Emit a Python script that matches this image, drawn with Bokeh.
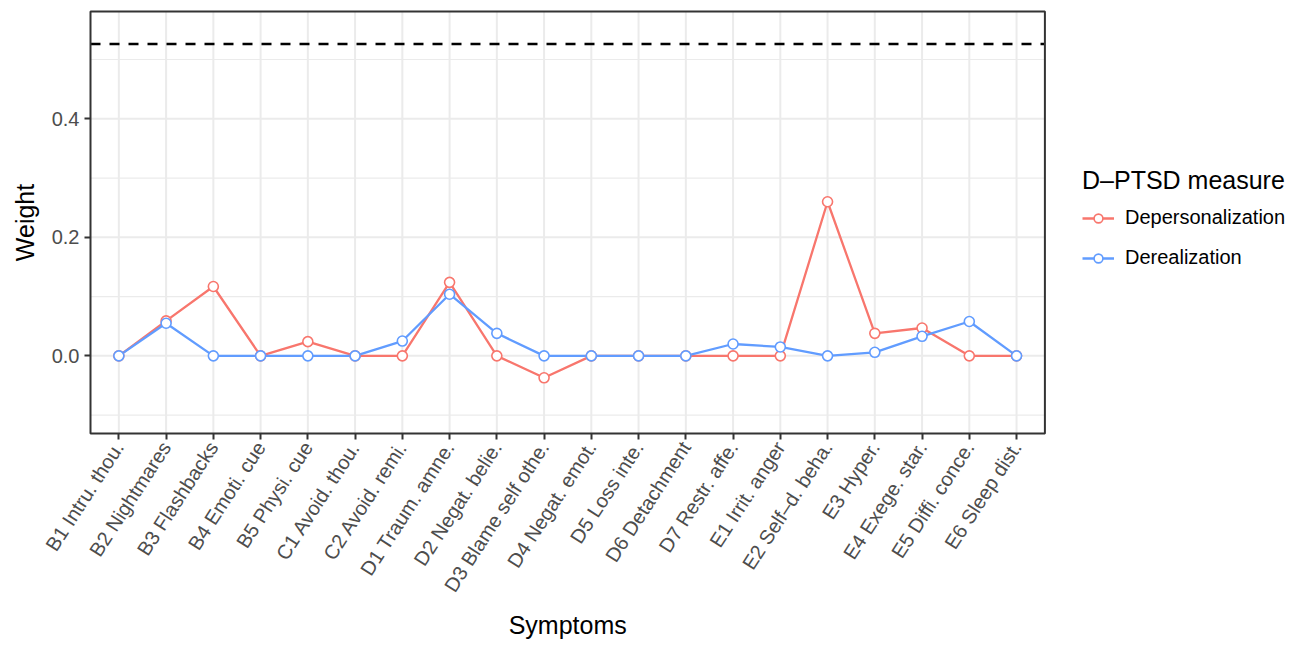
import math
from bokeh.plotting import figure
from bokeh.models import (Range1d, FixedTicker, PrintfTickFormatter, BoxAnnotation,
                          Legend, LegendItem, ColumnDataSource, Title)
from bokeh.embed import file_html
from bokeh.resources import INLINE

# ---- data ----
symptoms = ["B1 Intru. thou.", "B2 Nightmares", "B3 Flashbacks", "B4 Emoti. cue",
            "B5 Physi. cue", "C1 Avoid. thou.", "C2 Avoid. remi.", "D1 Traum. amne.",
            "D2 Negat. belie.", "D3 Blame self othe.", "D4 Negat. emot.", "D5 Loss inte.",
            "D6 Detachment", "D7 Restr. affe.", "E1 Irrit. anger", "E2 Self\u2013d. beha.",
            "E3 Hyper.", "E4 Exege. star.", "E5 Diffi. conce.", "E6 Sleep dist."]
depersonalization = [0.0, 0.059, 0.117, 0.0, 0.024, 0.0, 0.0, 0.124, 0.0, -0.037,
                     0.0, 0.0, 0.0, 0.0, 0.0, 0.260, 0.038, 0.047, 0.0, 0.0]
derealization = [0.0, 0.055, 0.0, 0.0, 0.0, 0.0, 0.025, 0.104, 0.038, 0.0,
                 0.0, 0.0, 0.0, 0.020, 0.015, 0.0, 0.006, 0.033, 0.058, 0.0]
cutoff = 0.526
y_major = [0.0, 0.2, 0.4]
y_minor = [-0.1, 0.1, 0.3, 0.5]
y_lo, y_hi = -0.131, 0.581
series_names = ["Depersonalization", "Derealization"]
series_colors = ["#F8766D", "#619CFF"]
x_title = "Symptoms"
y_title = "Weight"
legend_title = "D\u2013PTSD measure"

FONT = "Liberation Sans"
n = len(symptoms)
xpos = list(range(1, n + 1))
x_lo, x_hi = 0.4, n + 0.6

# ---- geometry (pixels) ----
W, H = 1298, 645
left_b, top_b, bottom_b = 88, 9, 210
pad = 2                                   # px between frame edge and panel box
panel_left, panel_right = 90, 1044.4
frame_w = W - left_b
xunit = (panel_right - panel_left) / (x_hi - x_lo)
yunit = (433 - 11) / (y_hi - y_lo)
xs = x_lo - pad / xunit
ys = y_lo - pad / yunit
ye = y_hi + pad / yunit

p = figure(width=W, height=H, output_backend="svg", toolbar_location=None,
           x_range=Range1d(xs, xs + frame_w / xunit), y_range=Range1d(ys, ye),
           min_border_left=left_b, min_border_right=0, min_border_top=top_b,
           min_border_bottom=bottom_b)

p.background_fill_color = "white"
p.border_fill_color = "white"
p.outline_line_color = None
p.xgrid.visible = False
p.ygrid.visible = False

# grid lines restricted to the panel
gy_major = ColumnDataSource(dict(y=y_major, x0=[x_lo] * len(y_major), x1=[x_hi] * len(y_major)))
gy_minor = ColumnDataSource(dict(y=y_minor, x0=[x_lo] * len(y_minor), x1=[x_hi] * len(y_minor)))
gx = ColumnDataSource(dict(x=xpos, y0=[y_lo] * n, y1=[y_hi] * n))
p.segment(x0="x0", x1="x1", y0="y", y1="y", source=gy_minor, line_color="#EBEBEB", line_width=1.2)
p.segment(x0="x0", x1="x1", y0="y", y1="y", source=gy_major, line_color="#EBEBEB", line_width=2)
p.segment(x0="x", x1="x", y0="y0", y1="y1", source=gx, line_color="#EBEBEB", line_width=2)

# cutoff line
cut_src = ColumnDataSource(dict(x=[x_lo, x_hi], y=[cutoff, cutoff]))
p.line("x", "y", source=cut_src, line_color="black", line_width=2.5, line_dash="10 9")

# series
sources = [ColumnDataSource(dict(x=xpos, y=vals)) for vals in (depersonalization, derealization)]
lines = []
for src, col in zip(sources, series_colors):
    lines.append(p.line("x", "y", source=src, line_color=col, line_width=2.3))
pts = []
for src, col in zip(sources, series_colors):
    pts.append(p.scatter("x", "y", source=src, size=10, marker="circle",
                         fill_color="white", line_color=col, line_width=1.6))

# panel border
p.add_layout(BoxAnnotation(left=x_lo, right=x_hi, bottom=y_lo, top=y_hi,
                           fill_alpha=0, line_color="#333333", line_alpha=1, line_width=2))

# axes
for ax in (p.xaxis[0], p.yaxis[0]):
    ax.axis_line_color = None
    ax.major_tick_line_color = "#333333"
    ax.major_tick_line_width = 2
    ax.major_tick_out = 4
    ax.major_tick_in = 2
    ax.minor_tick_line_color = None
    ax.major_label_text_font = FONT
    ax.major_label_text_font_size = "20px"
    ax.major_label_text_color = "#4D4D4D"
    ax.axis_label_text_font = FONT
    ax.axis_label_text_font_size = "25px"
    ax.axis_label_text_font_style = "normal"
    ax.axis_label_text_color = "black"

p.xaxis.ticker = FixedTicker(ticks=xpos)
p.xaxis.major_label_overrides = {i: s for i, s in zip(xpos, symptoms)}
p.xaxis.major_label_orientation = math.radians(57)
p.xaxis.major_label_standoff = 4

p.yaxis.ticker = FixedTicker(ticks=y_major)
p.yaxis.formatter = PrintfTickFormatter(format="%.1f")
p.yaxis.major_label_standoff = 5
p.yaxis.axis_label = y_title
p.yaxis.axis_label_standoff = 10

# x-axis title, centred under the panel (not the whole frame)
title_w = 118  # approx. rendered width of the x title at 25px
xtitle_offset = (panel_left + panel_right) / 2 - left_b - title_w / 2
p.add_layout(Title(text=x_title, align="left", offset=xtitle_offset, standoff=8,
                   text_font=FONT, text_font_size="25px", text_font_style="normal",
                   text_color="black"), "below")

items = [LegendItem(label=s, renderers=[l, m]) for s, l, m in zip(series_names, lines, pts)]
legend = Legend(items=items, location=(994, 166), title=legend_title,
                title_text_font=FONT, title_text_font_size="25px", title_text_color="black",
                title_text_font_style="normal", title_standoff=11,
                label_text_font=FONT, label_text_font_size="20px", label_text_color="black",
                glyph_width=32, glyph_height=22, label_height=22, label_standoff=11,
                spacing=17, padding=0, margin=0, border_line_color=None,
                background_fill_alpha=0)
p.add_layout(legend, "center")

open("out.html", "w").write(file_html(p, INLINE))
